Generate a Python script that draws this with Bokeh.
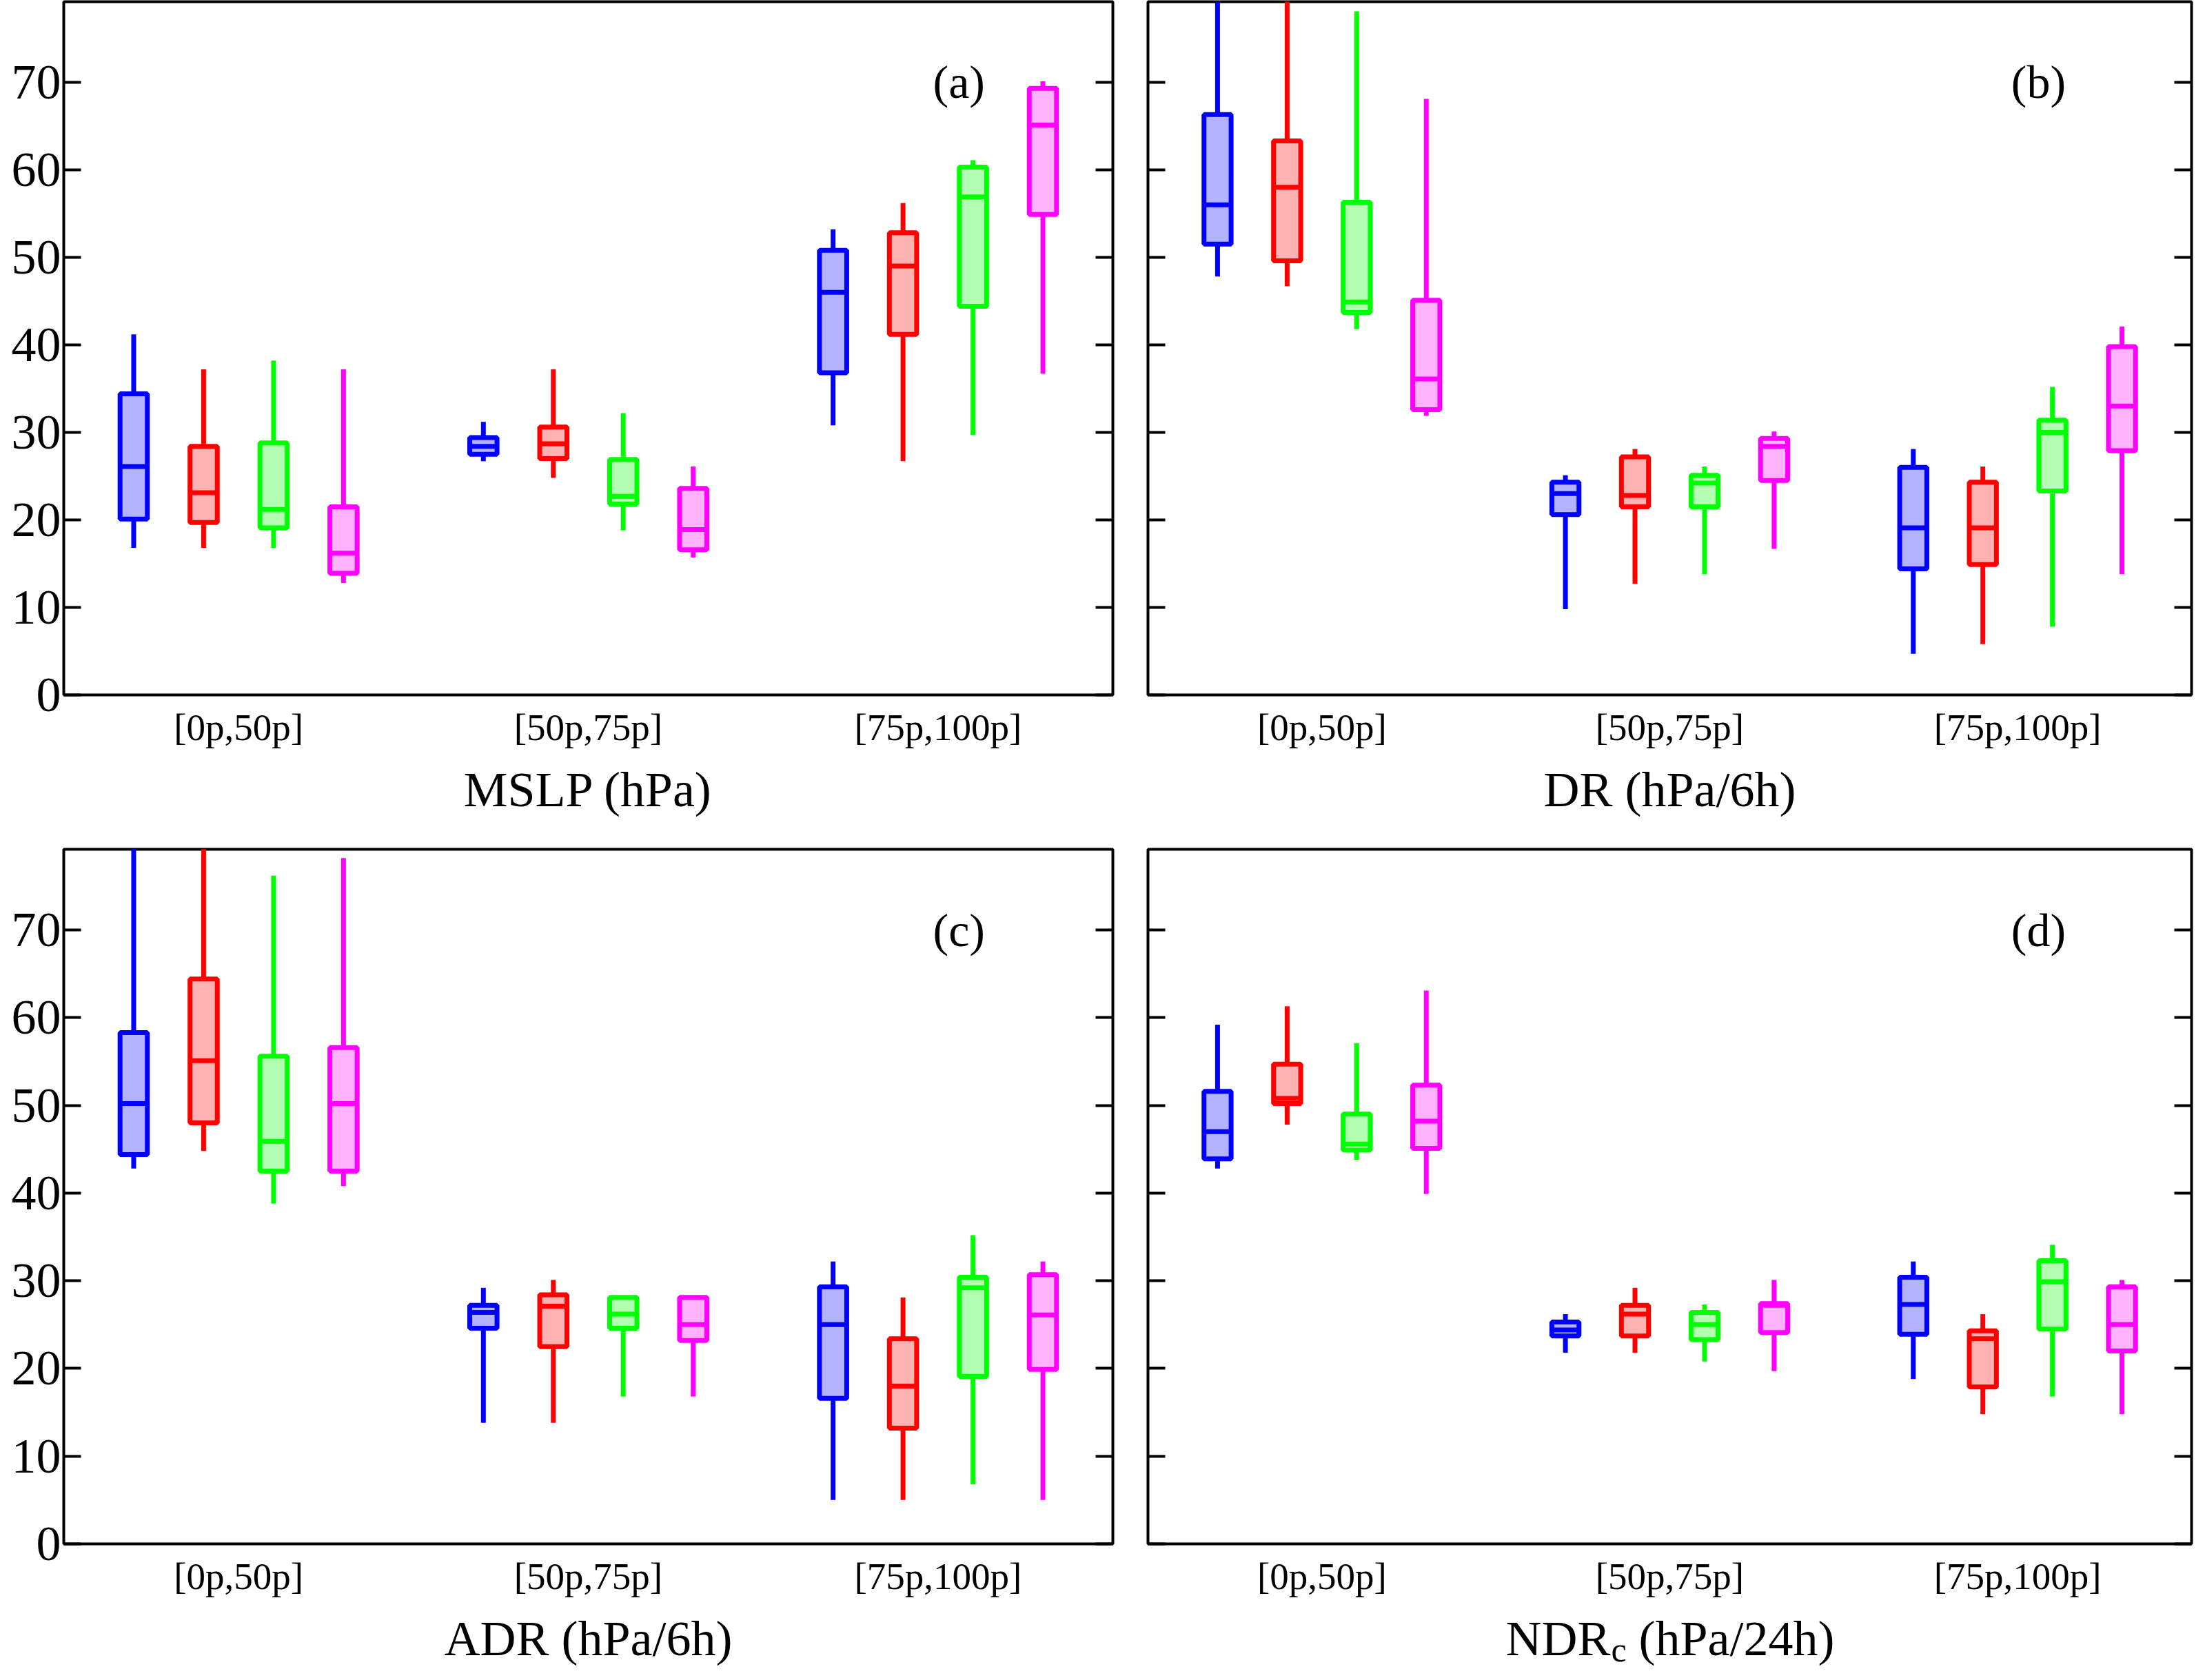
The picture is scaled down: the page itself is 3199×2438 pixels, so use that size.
import numpy as np
from bokeh.plotting import figure
from bokeh.models import Range1d, LinearAxis, FixedTicker, Label, ColumnDataSource
from bokeh.core.properties import value
from bokeh.layouts import row, column
from bokeh.embed import file_html
from bokeh.resources import INLINE

# ---------------- data ----------------
groups = ["[0p,50p]", "[50p,75p]", "[75p,100p]"]
series_colors = ["#0000ff", "#ff0000", "#00ff00", "#ff00ff"]
yticks = [0, 10, 20, 30, 40, 50, 60, 70]

# order: group1 (blue, red, green, magenta), group2 (...), group3 (...)
mslp_lo  = [16.8, 16.8, 16.8, 12.8, 26.7, 24.8, 18.8, 15.7, 30.8, 26.7, 29.7, 36.7]
mslp_q1  = [20.1, 19.7, 19.1, 13.9, 27.5, 27.0, 21.8, 16.6, 36.8, 41.2, 44.4, 54.9]
mslp_med = [26.1, 23.1, 21.2, 16.2, 28.4, 28.7, 22.7, 18.9, 46.0, 49.0, 56.9, 65.1]
mslp_q3  = [34.4, 28.4, 28.8, 21.5, 29.4, 30.6, 26.9, 23.6, 50.8, 52.8, 60.3, 69.3]
mslp_hi  = [41.2, 37.2, 38.2, 37.2, 31.2, 37.2, 32.2, 26.1, 53.2, 56.2, 61.1, 70.1]

dr_lo  = [47.8, 46.7, 41.8, 31.9, 9.8, 12.7, 13.8, 16.7, 4.7, 5.8, 7.8, 13.8]
dr_q1  = [51.5, 49.6, 43.7, 32.6, 20.6, 21.5, 21.5, 24.5, 14.4, 14.9, 23.3, 27.9]
dr_med = [56.0, 58.0, 44.9, 36.1, 23.0, 22.8, 24.2, 28.4, 19.1, 19.1, 30.0, 33.0]
dr_q3  = [66.3, 63.3, 56.3, 45.1, 24.3, 27.2, 25.1, 29.3, 26.0, 24.3, 31.4, 39.8]
dr_hi  = [85.0, 85.0, 78.1, 68.1, 25.1, 28.1, 26.1, 30.1, 28.1, 26.1, 35.2, 42.1]

adr_lo  = [42.8, 44.8, 38.8, 40.8, 13.8, 13.8, 16.8, 16.8, 5.0, 5.0, 6.8, 5.0]
adr_q1  = [44.4, 48.0, 42.5, 42.5, 24.6, 22.5, 24.6, 23.2, 16.6, 13.2, 19.1, 19.9]
adr_med = [50.2, 55.1, 45.9, 50.2, 26.4, 27.1, 26.2, 25.0, 25.0, 18.0, 29.2, 26.1]
adr_q3  = [58.3, 64.4, 55.6, 56.6, 27.2, 28.4, 28.1, 28.1, 29.3, 23.4, 30.4, 30.7]
adr_hi  = [85.0, 85.0, 76.2, 78.2, 29.2, 30.1, 28.1, 28.1, 32.2, 28.1, 35.2, 32.2]

ndr_lo  = [42.8, 47.8, 43.8, 39.9, 21.8, 21.8, 20.8, 19.7, 18.8, 14.8, 16.8, 14.8]
ndr_q1  = [43.9, 50.2, 44.9, 45.1, 23.7, 23.7, 23.3, 24.1, 23.9, 17.9, 24.5, 22.0]
ndr_med = [47.0, 50.8, 45.6, 48.2, 24.4, 26.2, 25.0, 27.2, 27.3, 23.4, 29.9, 25.0]
ndr_q3  = [51.6, 54.7, 49.0, 52.3, 25.3, 27.2, 26.4, 27.4, 30.4, 24.3, 32.3, 29.3]
ndr_hi  = [59.2, 61.3, 57.1, 63.1, 26.2, 29.2, 27.3, 30.1, 32.2, 26.2, 34.1, 30.1]

panel_tags = ["(a)", "(b)", "(c)", "(d)"]
xlabels = [
    [("MSLP (hPa)", "72px", 0, 0)],
    [("DR (hPa/6h)", "72px", 0, 0)],
    [("ADR (hPa/6h)", "72px", 0, 0)],
    [("NDR", "72px", -238, 0), ("c", "50px", -85, -16), ("(hPa/24h)", "72px", -45, 0)],
]

# ---------------- style ----------------
FONT = "Liberation Serif"
N_S = len(series_colors)
BOX_W = 0.39
LW = 7

positions = np.array([g * (N_S + 1) + s + 1 for g in range(len(groups)) for s in range(N_S)], dtype=float)
colors = [series_colors[s] for g in range(len(groups)) for s in range(N_S)]
group_centers = [g * (N_S + 1) + (N_S + 1) / 2 for g in range(len(groups))]
x_end = len(groups) * (N_S + 1)

MAIN_BOTTOM = 86      # border below frame holding tick labels
BASELINE_BELOW = 137  # px from frame bottom to x-title baseline


def make_panel(lo, q1, med, q3, hi, tag, show_ylabels, width, frame_h, bl, br, bt):
    xr = Range1d(0, x_end)
    p = figure(width=width, height=bt + frame_h + MAIN_BOTTOM, x_range=xr, y_range=Range1d(0, 79.2),
               output_backend="svg", toolbar_location=None,
               min_border_left=bl, min_border_right=br, min_border_top=bt,
               min_border_bottom=MAIN_BOTTOM)
    p.outline_line_color = "black"
    p.outline_line_width = 4
    p.xgrid.grid_line_color = None
    p.ygrid.grid_line_color = None

    src = ColumnDataSource(dict(
        x=positions, lo=lo, q1=q1, med=med, q3=q3, hi=hi, color=colors,
        xl=positions - BOX_W / 2, xr=positions + BOX_W / 2))

    p.vbar(x="x", width=BOX_W, bottom="q1", top="q3", source=src,
           fill_color="color", fill_alpha=0.3, line_color="color", line_width=LW)
    p.segment(x0="xl", y0="med", x1="xr", y1="med", source=src, line_color="color", line_width=LW)
    p.segment(x0="x", y0="q3", x1="x", y1="hi", source=src, line_color="color", line_width=LW)
    p.segment(x0="x", y0="q1", x1="x", y1="lo", source=src, line_color="color", line_width=LW)

    xa = p.xaxis[0]
    xa.ticker = FixedTicker(ticks=group_centers)
    xa.major_label_overrides = {c: g for c, g in zip(group_centers, groups)}
    xa.axis_line_color = None
    xa.major_tick_in = 0
    xa.major_tick_out = 0
    xa.major_label_text_font = FONT
    xa.major_label_text_font_size = "55px"
    xa.major_label_text_color = "black"
    xa.major_label_standoff = 16

    ya = p.yaxis[0]
    ya.ticker = FixedTicker(ticks=yticks)
    ya.axis_line_color = None
    ya.major_tick_in = 25
    ya.major_tick_out = 0
    ya.major_tick_line_width = 4
    ya.minor_tick_line_color = None
    ya.major_label_text_font = FONT
    ya.major_label_text_font_size = "72px"
    ya.major_label_text_color = "black"
    ya.major_label_standoff = 4
    if not show_ylabels:
        ya.major_label_overrides = {t: "" for t in yticks}

    ra = LinearAxis(ticker=FixedTicker(ticks=yticks), axis_line_color=None,
                    major_tick_in=25, major_tick_out=0, major_tick_line_width=4,
                    minor_tick_line_color=None,
                    major_label_overrides={t: "" for t in yticks},
                    major_label_text_font_size="10px", major_label_standoff=0)
    p.add_layout(ra, "right")

    p.add_layout(Label(x=12.8, y=70, text=tag, text_align="center", text_baseline="middle",
                       text_font=FONT, text_font_size="68px", text_color="black"))
    return p, xr


def make_title_strip(xr, parts, width, bl, br, height):
    s = figure(width=width, height=height, x_range=xr, y_range=Range1d(0, height),
               output_backend="svg", toolbar_location=None,
               min_border_left=bl, min_border_right=br, min_border_top=0, min_border_bottom=0)
    s.axis.visible = False
    s.grid.visible = False
    s.outline_line_color = None
    base_y = height - (BASELINE_BELOW - MAIN_BOTTOM)
    for txt, size, dx, dy in parts:
        s.text(x=[x_end / 2], y=[base_y + dy], text=[txt], x_offset=dx,
               text_align="center" if len(parts) == 1 else "left",
               text_baseline="alphabetic", text_font=value(FONT),
               text_font_size=value(size), text_color="black")
    return s


pa, xa_ = make_panel(mslp_lo, mslp_q1, mslp_med, mslp_q3, mslp_hi, panel_tags[0], True, 1639, 1006, 92, 25, 2)
pb, xb_ = make_panel(dr_lo, dr_q1, dr_med, dr_q3, dr_hi, panel_tags[1], False, 1544, 1006, 26, 4, 2)
pc, xc_ = make_panel(adr_lo, adr_q1, adr_med, adr_q3, adr_hi, panel_tags[2], True, 1639, 1008, 92, 25, 34)
pd, xd_ = make_panel(ndr_lo, ndr_q1, ndr_med, ndr_q3, ndr_hi, panel_tags[3], False, 1544, 1008, 26, 4, 34)

sa = make_title_strip(xa_, xlabels[0], 1639, 92, 25, 104)
sb = make_title_strip(xb_, xlabels[1], 1544, 26, 4, 104)
sc = make_title_strip(xc_, xlabels[2], 1639, 92, 25, 100)
sd = make_title_strip(xd_, xlabels[3], 1544, 26, 4, 100)

layout = column(row(pa, pb), row(sa, sb), row(pc, pd), row(sc, sd))
open("out.html", "w").write(file_html(layout, INLINE))
